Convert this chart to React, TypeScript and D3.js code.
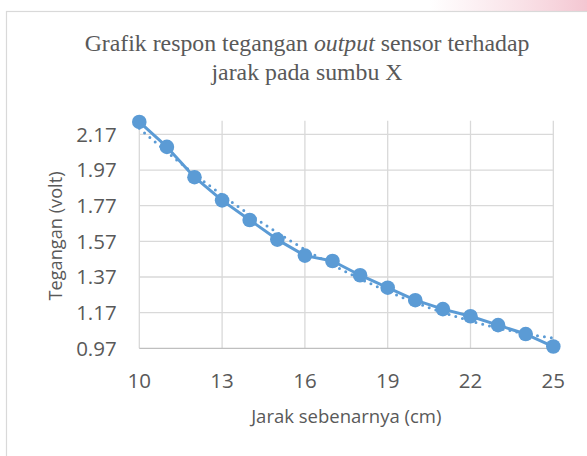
import React from "react";
import * as d3 from "d3";

const distances = [10, 11, 12, 13, 14, 15, 16, 17, 18, 19, 20, 21, 22, 23, 24, 25];
const voltages = [2.24, 2.1, 1.93, 1.8, 1.69, 1.58, 1.49, 1.46, 1.38, 1.31, 1.24, 1.19, 1.15, 1.1, 1.05, 0.98];
const xTicks = [10, 13, 16, 19, 22, 25];
const yTicks = [0.97, 1.17, 1.37, 1.57, 1.77, 1.97, 2.17];
const titleLine1 = ["Grafik respon tegangan ", "output", " sensor terhadap"];
const titleLine2 = "jarak pada sumbu X";
const xTitle = "Jarak sebenarnya (cm)";
const yTitle = "Tegangan (volt)";

// least-squares polynomial (order 2) trendline from the data
function polyFit2(xs: number[], ys: number[]) {
  const n = xs.length;
  let s0 = n, s1 = 0, s2 = 0, s3 = 0, s4 = 0, t0 = 0, t1 = 0, t2 = 0;
  for (let i = 0; i < n; i++) {
    const x = xs[i], y = ys[i];
    s1 += x; s2 += x * x; s3 += x ** 3; s4 += x ** 4;
    t0 += y; t1 += x * y; t2 += x * x * y;
  }
  const M = [
    [s0, s1, s2, t0],
    [s1, s2, s3, t1],
    [s2, s3, s4, t2],
  ];
  for (let c = 0; c < 3; c++) {
    let p = c;
    for (let r = c + 1; r < 3; r++) if (Math.abs(M[r][c]) > Math.abs(M[p][c])) p = r;
    [M[c], M[p]] = [M[p], M[c]];
    for (let r = 0; r < 3; r++) {
      if (r === c) continue;
      const f = M[r][c] / M[c][c];
      for (let k = c; k < 4; k++) M[r][k] -= f * M[c][k];
    }
  }
  const a = M[0][3] / M[0][0], b = M[1][3] / M[1][1], cc = M[2][3] / M[2][2];
  return (x: number) => a + b * x + cc * x * x;
}

export default function App() {
  const W = 587, H = 456;
  const left = 139.3, right = 553.3, top = 120.7, bottom = 348.3;
  const x = d3.scaleLinear().domain([10, 25]).range([left, right]);
  const y = d3.scaleLinear().domain([0.97, 2.247]).range([bottom, top]);
  const pts = distances.map((d, i) => [d, voltages[i]] as [number, number]);
  const line = d3.line<[number, number]>().x(d => x(d[0])).y(d => y(d[1]));
  const fit = polyFit2(distances, voltages);
  const trendPts = d3.range(10, 25.001, 0.1).map(v => [v, fit(v)] as [number, number]);
  const trendLine = d3.line<[number, number]>().x(d => x(d[0])).y(d => y(d[1]));
  const blue = "#5B9BD5";
  const grey = "#595959";
  const font = "'Open Sans', sans-serif";
  const serif = "'Liberation Serif', 'Times New Roman', serif";
  return (
    <svg width={W} height={H} style={{ position: "absolute", left: 0, top: 0, background: "#fff" }}>
      <defs>
        <linearGradient id="pink" x1="0" x2="1" y1="0" y2="0">
          <stop offset="0" stopColor="#f4c7d2" stopOpacity="0" />
          <stop offset="0.5" stopColor="#f4c7d2" stopOpacity="0.45" />
          <stop offset="1" stopColor="#f1b8c6" stopOpacity="0.8" />
        </linearGradient>
      </defs>
      <rect x={430} y={0} width={157} height={11} fill="url(#pink)" />
      <rect x={6.5} y={11.5} width={640} height={500} fill="#fff" stroke="#d9d9d9" strokeWidth={1.2} />
      <text x={307} y={50.5} textAnchor="middle" fontFamily={serif} fontSize={23.8} fill={grey}>
        <tspan>{titleLine1[0]}</tspan>
        <tspan fontStyle="italic">{titleLine1[1]}</tspan>
        <tspan>{titleLine1[2]}</tspan>
      </text>
      <text x={307} y={80} textAnchor="middle" fontFamily={serif} fontSize={23.8} fill={grey}>
        {titleLine2}
      </text>
      {yTicks.slice(1).map(t => (
        <line key={"h" + t} x1={left} x2={right} y1={y(t)} y2={y(t)} stroke="#d9d9d9" strokeWidth={1.3} />
      ))}
      {xTicks.map(t => (
        <line key={"v" + t} x1={x(t)} x2={x(t)} y1={top} y2={bottom} stroke="#d9d9d9" strokeWidth={1.3} />
      ))}
      <line x1={left} x2={right} y1={bottom} y2={bottom} stroke="#bfbfbf" strokeWidth={1.3} />
      {yTicks.map(t => (
        <text key={"yl" + t} x={116.7} y={y(t)} dy="0.36em" textAnchor="end" fontFamily={font} fontSize={20.5} fill={grey}>
          {t.toFixed(2)}
        </text>
      ))}
      {xTicks.map(t => (
        <text key={"xl" + t} x={x(t)} y={388.3} textAnchor="middle" fontFamily={font} fontSize={20.5} fill={grey}>
          {t}
        </text>
      ))}
      <text x={346.3} y={422.7} textAnchor="middle" fontFamily={font} fontSize={18.5} fill={grey}>
        {xTitle}
      </text>
      <text transform={`translate(61.5,236) rotate(-90)`} textAnchor="middle" fontFamily={font} fontSize={18.2} fill={grey}>
        {yTitle}
      </text>
      <path d={line(pts) || ""} fill="none" stroke={blue} strokeWidth={3} strokeLinejoin="round" />
      <path d={trendLine(trendPts) || ""} fill="none" stroke={blue} strokeWidth={3} strokeDasharray="0 7" strokeLinecap="round" />
      {pts.map((p, i) => (
        <circle key={i} cx={x(p[0])} cy={y(p[1])} r={7.3} fill={blue} />
      ))}
    </svg>
  );
}
